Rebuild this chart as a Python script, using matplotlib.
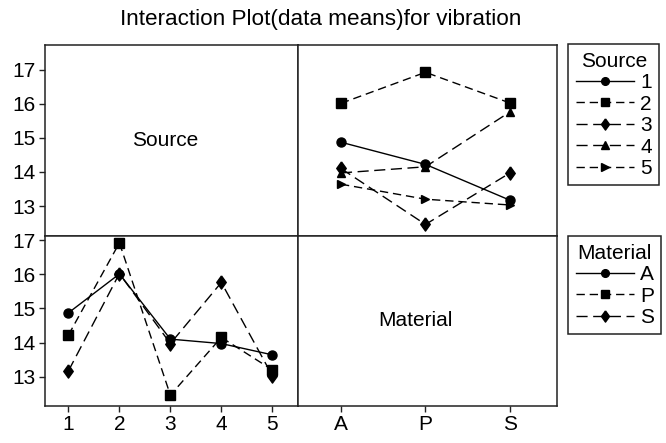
# Grafica de interaccion (medias) para la vibracion
# Factores: Source (1..5) y Material (A, P, S)

###############################################################################
import matplotlib.pyplot as plt
from matplotlib.lines import Line2D
###############################################################################

plt.rcParams['font.family'] = ['Liberation Sans', 'DejaVu Sans']

# Niveles de los factores
sources = ['1', '2', '3', '4', '5']
materials = ['A', 'P', 'S']

# Medias de vibracion por material, en cada nivel de Source
mean_A = [14.87, 16.01, 14.10, 13.97, 13.64]
mean_P = [14.22, 16.92, 12.46, 14.15, 13.20]
mean_S = [13.17, 16.02, 13.97, 15.76, 13.03]

yticks = [13, 14, 15, 16, 17]

# Estilos de linea y marcadores
diamante = [(0, 1), (0.72, 0), (0, -1), (-0.72, 0), (0, 1)]
estilo_source = [
    dict(marker='o', ls='-', ms=6.5),
    dict(marker='s', dashes=(6, 3.5), ms=6.5),
    dict(marker=diamante, dashes=(8, 4), ms=9.5),
    dict(marker='^', dashes=(8, 4), ms=6),
    dict(marker='>', dashes=(6, 3.5), ms=6),
]
estilo_material = [
    dict(marker='o', ls='-', ms=6.5),
    dict(marker='s', dashes=(6, 3.5), ms=6.5),
    dict(marker=diamante, dashes=(8, 4), ms=9.5),
]
FS = 15

fig = plt.figure(figsize=(6.66, 4.43), dpi=100)
W, H = 666.0, 443.0

def caja(x0, y0, x1, y1):
    return fig.add_axes([x0 / W, 1 - y1 / H, (x1 - x0) / W, (y1 - y0) / H])

ax_tl = caja(45, 45, 298.3, 235.7)
ax_tr = caja(298.3, 45, 556.7, 235.7)
ax_bl = caja(45, 235.7, 298.3, 405.7)
ax_br = caja(298.3, 235.7, 556.7, 405.7)

for ax in (ax_tl, ax_tr, ax_bl, ax_br):
    for s in ax.spines.values():
        s.set_linewidth(1.1)
        s.set_color('#222222')
    ax.tick_params(direction='out', length=4.3, width=1, labelsize=FS,
                   pad=2.5, colors='#222222', labelcolor='black')

ylim_top = (12.13, 17.72)
ylim_bot = (12.15, 17.13)
xlim_left = (0.54, 5.51)
xlim_right = (-0.505, 2.553)

# Panel superior izquierdo: solo la etiqueta del factor
ax_tl.set_xlim(xlim_left)
ax_tl.set_ylim(ylim_top)
ax_tl.set_yticks(yticks)
ax_tl.set_xticks([])
ax_tl.text(0.474, 0.5, 'Source', transform=ax_tl.transAxes,
           ha='center', va='center', fontsize=FS)

# Panel superior derecho: lineas por Source sobre Material
xm = list(range(len(materials)))
for i, src in enumerate(sources):
    vals = [mean_A[i], mean_P[i], mean_S[i]]
    ax_tr.plot(xm, vals, color='black', lw=1.0, **estilo_source[i])
ax_tr.set_xlim(xlim_right)
ax_tr.set_ylim(ylim_top)
ax_tr.set_xticks([])
ax_tr.set_yticks([])

# Panel inferior izquierdo: lineas por Material sobre Source
xs = [int(s) for s in sources]
for j, vals in enumerate([mean_A, mean_P, mean_S]):
    ax_bl.plot(xs, vals, color='black', lw=1.0, **estilo_material[j])
ax_bl.set_xlim(xlim_left)
ax_bl.set_ylim(ylim_bot)
ax_bl.set_yticks(yticks)
ax_bl.set_xticks(xs)
ax_bl.set_xticklabels(sources)

# Panel inferior derecho: etiqueta del factor
ax_br.set_xlim(xlim_right)
ax_br.set_ylim(ylim_bot)
ax_br.set_yticks([])
ax_br.set_xticks(xm)
ax_br.set_xticklabels(materials)
ax_br.text(0.455, 0.5, 'Material', transform=ax_br.transAxes,
           ha='center', va='center', fontsize=FS)

# Leyendas
def leyenda(titulo, labels, estilos, y_top):
    handles = []
    for e in estilos:
        e = dict(e)
        e['ms'] = e['ms'] * 0.85
        handles.append(Line2D([], [], color='black', lw=1.0, **e))
    lg = fig.legend(handles, labels, title=titulo, loc='upper left',
                    bbox_to_anchor=(568.3 / W, 1 - y_top / H),
                    fontsize=FS, title_fontsize=FS, numpoints=1,
                    handlelength=2.8, handletextpad=0.3, labelspacing=0.12,
                    borderpad=0.35, borderaxespad=0, fancybox=False,
                    framealpha=1, edgecolor='#222222')
    lg.get_frame().set_linewidth(1.1)
    return lg

leyenda('Source', sources, estilo_source, 44.3)
leyenda('Material', materials, estilo_material, 236.3)

fig.text(321 / W, 1 - 19 / H, 'Interaction Plot(data means)for vibration',
         ha='center', va='center', fontsize=16.2)

fig.savefig('out.png', dpi=100)
